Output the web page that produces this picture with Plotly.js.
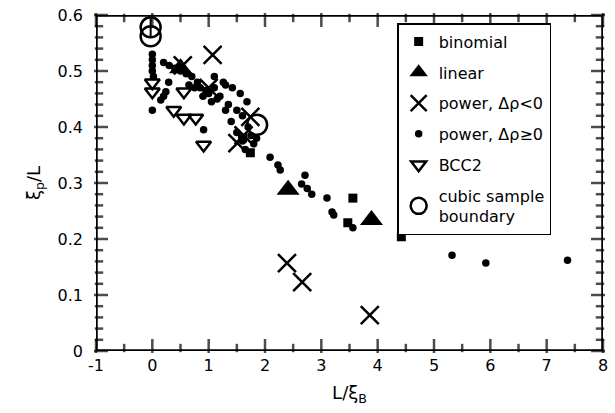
<!DOCTYPE html>
<html>
<head>
<meta charset="utf-8">
<script src="https://cdn.plot.ly/plotly-3.0.1.min.js"></script>
<style>html,body{margin:0;padding:0;background:#fff;}#chart{width:615px;height:413px;}</style>
</head>
<body>
<div id="chart"></div>
<script>
// binomial (filled squares)
const binomialX = [1.74, 1.60, 3.56, 3.47, 4.42];
const binomialY = [0.354, 0.380, 0.273, 0.229, 0.204];
// linear (filled triangles)
const linearX = [0.50, 2.41, 3.89];
const linearY = [0.505, 0.288, 0.234];
// power, Δρ<0 (crosses)
const powerNegX = [0.54, 1.07, 1.00, 1.74, 1.51, 1.62, 2.39, 2.66, 3.86];
const powerNegY = [0.510, 0.529, 0.470, 0.418, 0.371, 0.385, 0.157, 0.123, 0.064];
// power, Δρ≥0 (small dots)
const powerPosX = [0.00, 0.00, 0.00, 0.00, 0.02, 0.00, 0.15, 0.20, 0.24, 0.29, 0.91,
  0.20, 0.30, 0.40, 0.50, 0.60, 0.70, 0.80, 0.85, 0.95, 1.00, 1.10, 1.20, 1.26, 1.35,
  1.42, 1.50, 1.56, 1.60, 1.68, 1.70, 1.75, 1.60, 1.50, 1.40, 1.30, 1.15, 1.05, 0.90,
  1.80, 1.65, 1.85, 2.09, 2.23, 2.27, 2.71, 2.75, 2.83, 2.65, 3.10, 3.19, 3.22, 3.56,
  5.32, 5.92, 7.37, 0.65, 0.75, 1.10, 1.30];
const powerPosY = [0.530, 0.520, 0.510, 0.500, 0.490, 0.430, 0.448, 0.455, 0.463, 0.480, 0.395,
  0.515, 0.510, 0.505, 0.500, 0.495, 0.490, 0.480, 0.470, 0.465, 0.460, 0.470, 0.455, 0.480, 0.440,
  0.470, 0.430, 0.460, 0.420, 0.445, 0.400, 0.385, 0.375, 0.390, 0.410, 0.430, 0.450, 0.445, 0.455,
  0.370, 0.360, 0.380, 0.346, 0.332, 0.323, 0.314, 0.290, 0.280, 0.298, 0.273, 0.248, 0.243, 0.220,
  0.171, 0.157, 0.162, 0.475, 0.470, 0.490, 0.475];
// BCC2 (open down triangles)
const bccX = [0.00, 0.00, 0.56, 0.38, 0.56, 0.77, 0.91];
const bccY = [0.479, 0.463, 0.463, 0.430, 0.416, 0.416, 0.368];
// cubic sample boundary (open circles)
const cubicX = [-0.03, -0.03, 1.86];
const cubicY = [0.578, 0.562, 0.404];
const cubicErr = [0.016, 0, 0];

const xTicks = [-1, 0, 1, 2, 3, 4, 5, 6, 7, 8];
const yTicks = [0, 0.1, 0.2, 0.3, 0.4, 0.5, 0.6];
const yTickText = ['0', '0.1', '0.2', '0.3', '0.4', '0.5', '0.6'];

const xRange = [-1, 8], yRange = [0, 0.6];
const plotW = 615 - 96 - 12, plotH = 413 - 15 - 62;
// axis decoration: tick marks (as line markers) and frame, built from the axis ranges
const xMinorStep = 0.5, yMinorStep = 0.02;
const pxToY = (yRange[1] - yRange[0]) / plotH, pxToX = (xRange[1] - xRange[0]) / plotW;
const vtX = [], vtY = [], vtS = [], htX = [], htY = [], htS = [];
for (let i = 0; i <= Math.round((xRange[1] - xRange[0]) / xMinorStep); i++) {
  const v = xRange[0] + i * xMinorStep;
  const len = Math.abs(v - Math.round(v)) < 1e-9 ? 10 : 6;
  vtX.push(v, v); vtY.push(yRange[0] + len / 2 * pxToY, yRange[1] - len / 2 * pxToY); vtS.push(len, len);
}
for (let i = 0; i <= Math.round((yRange[1] - yRange[0]) / yMinorStep); i++) {
  const v = yRange[0] + i * yMinorStep;
  const len = i % 5 === 0 ? 10 : 6;
  htY.push(v, v); htX.push(xRange[0] + len / 2 * pxToX, xRange[1] - len / 2 * pxToX); htS.push(len, len);
}
const frameX = [xRange[0], xRange[1], xRange[1], xRange[0], xRange[0]];
const frameY = [yRange[0], yRange[0], yRange[1], yRange[1], yRange[0]];

const F = 'DejaVu Sans, Liberation Sans, sans-serif';
const traces = [
  {x: vtX, y: vtY, mode: 'markers', type: 'scatter', showlegend: false, hoverinfo: 'skip', cliponaxis: false,
   marker: {symbol: 'line-ns-open', size: vtS, color: '#000', line: {color: '#000', width: 2.5}}},
  {x: htX, y: htY, mode: 'markers', type: 'scatter', showlegend: false, hoverinfo: 'skip', cliponaxis: false,
   marker: {symbol: 'line-ew-open', size: htS, color: '#000', line: {color: '#000', width: 2.5}}},
  {x: frameX, y: frameY, mode: 'lines', type: 'scatter', showlegend: false, hoverinfo: 'skip', cliponaxis: false,
   line: {color: '#000', width: 3.5}},
  {x: binomialX, y: binomialY, name: 'binomial', mode: 'markers', type: 'scatter', legendgroup: 'a',
   marker: {symbol: 'square', size: 9, color: '#000'}},
  {x: linearX, y: linearY, name: 'linear', mode: 'markers', type: 'scatter', legendgroup: 'b',
   marker: {symbol: 'triangle-up', size: 20, color: '#000'}},
  {x: powerNegX, y: powerNegY, name: 'power, Δρ<0', mode: 'markers', type: 'scatter', legendgroup: 'c',
   marker: {symbol: 'x-thin-open', size: 18, color: '#000', line: {width: 2.5, color: '#000'}}},
  {x: powerPosX, y: powerPosY, name: 'power, Δρ≥0', mode: 'markers', type: 'scatter', legendgroup: 'd',
   marker: {symbol: 'circle', size: 7.5, color: '#000'}},
  {x: bccX, y: bccY, name: 'BCC2', mode: 'markers', type: 'scatter', legendgroup: 'e',
   marker: {symbol: 'triangle-down-open', size: 13, color: '#000', line: {width: 2.5, color: '#000'}}},
  {x: cubicX, y: cubicY, name: 'cubic sample<br>boundary', mode: 'markers', type: 'scatter', legendgroup: 'f',
   error_y: {type: 'data', array: cubicErr, visible: true, color: '#000', thickness: 2, width: 0},
   marker: {symbol: 'circle-open', size: 20, color: '#000', line: {width: 2.5, color: '#000'}}}
];

const layout = {
  width: 615, height: 413,
  margin: {l: 96, r: 12, t: 15, b: 62},
  paper_bgcolor: '#fff', plot_bgcolor: '#fff',
  font: {family: F, size: 16, color: '#000'},
  showlegend: true,
  legend: {x: 0.594, y: 0.976, xanchor: 'left', yanchor: 'top', bgcolor: '#fff',
    bordercolor: '#000', borderwidth: 1.5, font: {family: F, size: 16, color: '#000'},
    traceorder: 'grouped', tracegroupgap: 7, itemsizing: 'trace'},
  xaxis: {range: xRange, tickmode: 'array', tickvals: xTicks, ticktext: xTicks.map(String),
    ticks: '', showline: false, showgrid: false, zeroline: false,
    tickfont: {family: F, size: 16}, ticklabelstandoff: 3,
    title: {text: 'L/ξ<sub>B</sub>', font: {family: F, size: 18}, standoff: 12}},
  yaxis: {range: yRange, tickmode: 'array', tickvals: yTicks, ticktext: yTickText,
    ticks: '', showline: false, showgrid: false, zeroline: false,
    tickfont: {family: F, size: 16}, ticklabelstandoff: 12,
    title: {text: 'ξ<sub>p</sub>/L', font: {family: F, size: 18}, standoff: 12}}
};

Plotly.newPlot('chart', traces, layout, {displayModeBar: false});
</script>
</body>
</html>
